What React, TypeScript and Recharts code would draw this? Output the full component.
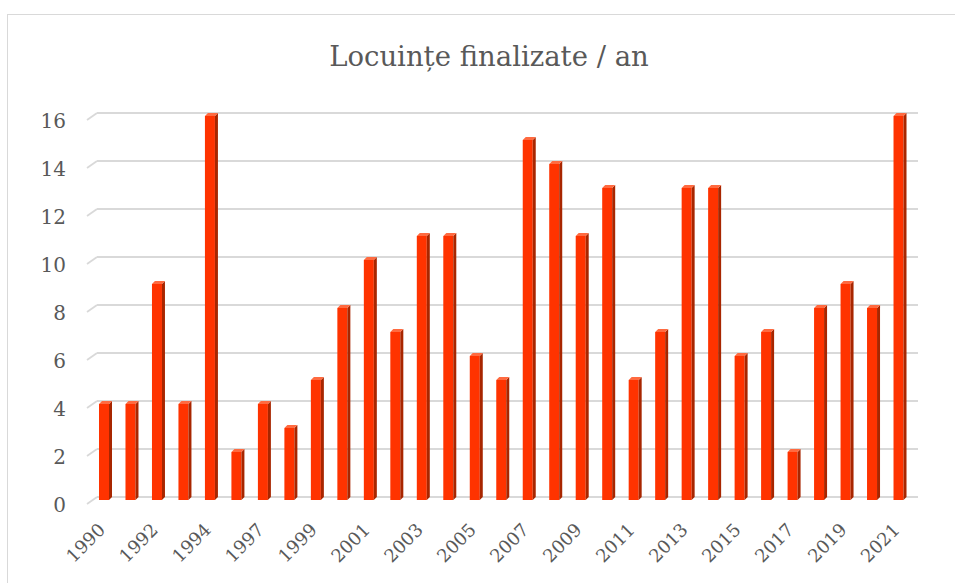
import React from 'react';
import { BarChart, Bar, XAxis, YAxis, CartesianGrid } from 'recharts';

const years = [
  '1990', '1991', '1992', '1993', '1994', '1996', '1997', '1998', '1999', '2000',
  '2001', '2002', '2003', '2004', '2005', '2006', '2007', '2008', '2009', '2010',
  '2011', '2012', '2013', '2014', '2015', '2016', '2017', '2018', '2019', '2020', '2021',
];
const finished = [
  4, 4, 9, 4, 16, 2, 4, 3, 5, 8,
  10, 7, 11, 11, 6, 5, 15, 14, 11, 13,
  5, 7, 13, 13, 6, 7, 2, 8, 9, 8, 16,
];
const yTicks = [0, 2, 4, 6, 8, 10, 12, 14, 16];

const data = years.map((year, i) => ({ year, value: finished[i] }));

const TEXT = '#595959';
const GRID = '#d9d9d9';
const FONT = '"DejaVu Serif", serif';

// 3D-ish column: front face, darker right side, lighter top
function Column(props: any) {
  const { x, y, width, height } = props;
  if (height == null || height <= 0) return null;
  const d = 3;
  const w = width - d;
  return (
    <g>
      <rect x={x} y={y + d} width={w} height={height} fill="#ff3300" />
      <polygon
        points={`${x + w},${y + d} ${x + width},${y} ${x + width},${y + height} ${x + w},${y + height + d}`}
        fill="#a82600"
      />
      <polygon
        points={`${x},${y + d} ${x + d},${y} ${x + width},${y} ${x + w},${y + d}`}
        fill="#ff6a40"
      />
    </g>
  );
}

function GridLine(props: any) {
  const { x1, x2, y1 } = props;
  return (
    <g key={props.key ?? `g-${y1}`}>
      <line x1={x1 + 5} x2={x2 + 5} y1={y1} y2={y1} stroke={GRID} strokeWidth={1.8} />
      <line x1={x1 - 5} x2={x1 + 5} y1={y1 + 7} y2={y1} stroke={GRID} strokeWidth={1.8} />
    </g>
  );
}

function YTick(props: any) {
  const { y, payload } = props;
  return (
    <text x={66} y={y + 8} textAnchor="end" dominantBaseline="central"
      fill={TEXT} fontSize={20} fontFamily={FONT}>
      {payload.value}
    </text>
  );
}

function XTick(props: any) {
  const { x, payload } = props;
  const ax = x + 1;
  const ay = 531;
  return (
    <text x={ax} y={ay} textAnchor="end" transform={`rotate(-45, ${ax}, ${ay})`}
      fill={TEXT} fontSize={18} fontFamily={FONT}>
      {payload.value}
    </text>
  );
}

export default function App() {
  return (
    <div style={{ position: 'absolute', left: 0, top: 0, width: 955, height: 583, overflow: 'hidden', background: '#fff' }}>
      <div style={{
        position: 'absolute', left: 7, top: 14, width: 1000, height: 700,
        border: `1px solid ${GRID}`, boxSizing: 'border-box',
      }} />
      <div style={{
        position: 'absolute', left: 0, width: 978, top: 40, textAlign: 'center',
        fontFamily: FONT, fontSize: 27.5, color: TEXT,
      }}>
        Locuințe finalizate / an
      </div>
      <div style={{ position: 'absolute', left: 0, top: 0 }}>
        <BarChart width={955} height={583} data={data}
          margin={{ top: 113, right: 42, bottom: 26, left: 0 }} barCategoryGap={0}>
          <CartesianGrid vertical={false} horizontal={GridLine as any} />
          <XAxis dataKey="year" interval={1} axisLine={false} tickLine={false}
            height={60} tick={<XTick />} />
          <YAxis domain={[0, 16]} ticks={yTicks} width={92} axisLine={false}
            tickLine={false} tick={<YTick />} />
          <Bar dataKey="value" barSize={13} shape={<Column />} isAnimationActive={false} />
        </BarChart>
      </div>
    </div>
  );
}
